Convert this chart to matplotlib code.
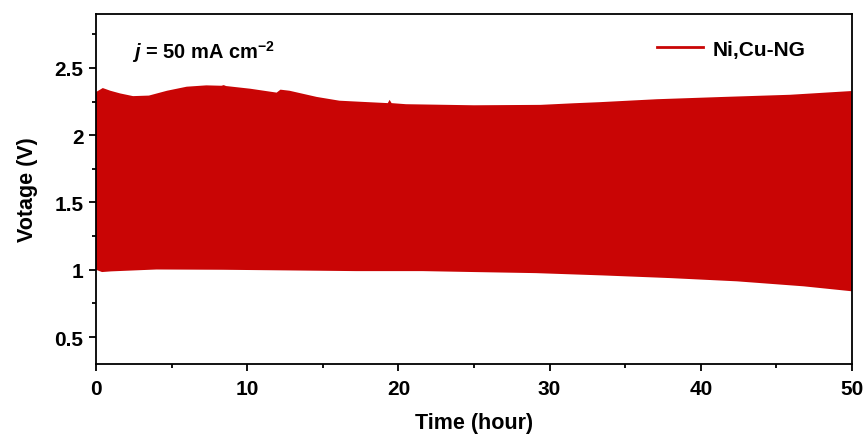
import numpy as np
import matplotlib
matplotlib.use("Agg")
import matplotlib.pyplot as plt
from matplotlib.ticker import MultipleLocator

# Upper / lower envelope of the charge-discharge band
time_upper = [0, 0.15, 0.45, 0.95, 1.6, 2.45, 3.5, 4.7, 6.0, 7.3, 8.3, 8.45, 8.6,
              10.2, 11.95, 12.2, 12.8, 14.6, 16.1, 17.5, 19.3, 19.42, 19.55,
              20.5, 25, 29.4, 31.6, 33.3, 37.1, 41.5, 45.9, 50]
volt_upper = [2.32, 2.33, 2.35, 2.33, 2.31, 2.29, 2.294, 2.33, 2.36, 2.37, 2.367, 2.372, 2.365,
              2.345, 2.316, 2.338, 2.33, 2.284, 2.256, 2.248, 2.238, 2.262, 2.238,
              2.23, 2.222, 2.225, 2.237, 2.245, 2.267, 2.284, 2.30, 2.328]

time_lower = [0, 0.4, 1.0, 4, 8.4, 12.8, 17.2, 21.6, 25, 29.1, 33.5, 38, 42.4, 46.8, 50]
volt_lower = [1.0, 0.983, 0.988, 1.002, 1.0, 0.995, 0.99, 0.99, 0.983, 0.975, 0.958,
              0.938, 0.914, 0.877, 0.84]

series_label = "Ni,Cu-NG"
RED = "#C90505"

plt.rcParams["font.family"] = ["Liberation Sans", "DejaVu Sans"]
plt.rcParams["font.weight"] = "bold"
plt.rcParams["mathtext.fontset"] = "custom"
plt.rcParams["mathtext.rm"] = "Liberation Sans:bold"
plt.rcParams["mathtext.it"] = "Liberation Sans:bold:italic"
plt.rcParams["mathtext.bf"] = "Liberation Sans:bold"
plt.rcParams["mathtext.default"] = "bf"

fig, ax = plt.subplots(figsize=(8.67, 4.39), dpi=100)
fig.subplots_adjust(left=0.1107, right=0.9827, top=0.9658, bottom=0.1686)

# Band drawn as one polygon: upper envelope forward, lower envelope back
xs = np.r_[time_upper, time_lower[::-1]]
ys = np.r_[volt_upper, volt_lower[::-1]]
ax.fill(xs, ys, color=RED, lw=0)
ax.plot([], [], color=RED, lw=2, label=series_label)

ax.set_xlim(0, 50)
ax.set_ylim(0.3, 2.9)
ax.xaxis.set_major_locator(MultipleLocator(10))
ax.xaxis.set_minor_locator(MultipleLocator(5))
ax.yaxis.set_major_locator(MultipleLocator(0.5))
ax.yaxis.set_minor_locator(MultipleLocator(0.25))
ax.yaxis.set_major_formatter(plt.FuncFormatter(lambda v, p: f"{v:g}"))

ax.tick_params(which="both", direction="out", width=1.3, top=False, right=False)
ax.tick_params(which="major", length=5, labelsize=15)
ax.tick_params(axis="x", which="major", pad=6)
ax.tick_params(axis="y", which="major", pad=4)
ax.tick_params(which="minor", length=3)
for s in ax.spines.values():
    s.set_linewidth(1.3)

ax.set_xlabel("Time (hour)", fontsize=15.5, fontweight="bold", labelpad=10)
ax.set_ylabel("Votage (V)", fontsize=15.5, fontweight="bold", labelpad=12)

ax.text(0.048, 0.894, r"$\mathit{j}$ = 50 mA cm$^{-2}$", transform=ax.transAxes,
        fontsize=14.4, fontweight="bold", va="center", ha="left")

leg = ax.legend(loc="center left", frameon=False, fontsize=15, handlelength=2.2,
                handletextpad=0.45, borderpad=0, borderaxespad=0,
                bbox_to_anchor=(0.742, 0.9))
for t in leg.get_texts():
    t.set_fontweight("bold")

fig.savefig("out.png", dpi=100)
